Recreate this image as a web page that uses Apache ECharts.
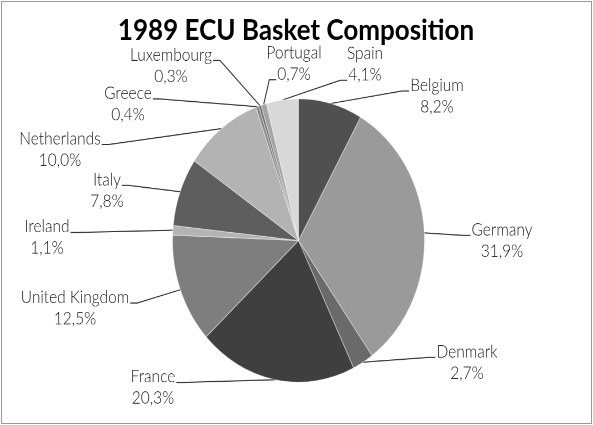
<!DOCTYPE html>
<html>
<head>
<meta charset="utf-8">
<script src="https://cdn.jsdelivr.net/npm/echarts@6/dist/echarts.min.js"></script>
<style>
  html, body { margin: 0; padding: 0; background: #fff; }
  #frame { position: relative; width: 593px; height: 425px; overflow: hidden; }
  #border { position: absolute; left: 1px; top: 1px; width: 591px; height: 423px;
            border: 1px solid #9a9a9a; box-sizing: border-box; }
  /* the reference picture is stretched vertically, so the whole chart is too */
  #chart { position: absolute; left: 0; top: 0; width: 593px; height: 378px;
           transform: scaleY(1.12434); transform-origin: 0 0; }
</style>
</head>
<body>
<div id="frame">
  <div id="chart"></div>
  <div id="border"></div>
</div>
<script>
const STRETCH = 425 / 378;

const countries = ["Belgium", "Germany", "Denmark", "France", "United Kingdom", "Ireland",
  "Italy", "Netherlands", "Greece", "Luxembourg", "Portugal", "Spain"];
const shares = [8.2, 31.9, 2.7, 20.3, 12.5, 1.1, 7.8, 10.0, 0.4, 0.3, 0.7, 4.1];
const sliceColors = ["#505050", "#9a9a9a", "#6a6a6a", "#3f3f3f", "#7e7e7e", "#b4b4b4",
  "#5e5e5e", "#b3b3b3", "#8a8a8a", "#6e6e6e", "#a5a5a5", "#d8d8d8"];

// label block centre in picture pixels, and which text row the leader line meets (0 name, 1 value)
const labelSpots = [
  [437, 96, 0], [502, 240.5, 0], [467, 362.5, 0], [153, 387.5, 0],
  [75, 308, 0], [47, 237.5, 0], [107, 190.5, 0], [60, 149.5, 0],
  [128, 104, 0], [171, 65.5, 0], [294, 63.5, 1], [365, 64, 1]
];

const LABEL_FONT = "300 15.5px Lato";
const LINE_H = 19;
const PIE_CX = 298.5;
const PIE_CY = 240.5 / STRETCH;
const PIE_R = 126;

const ctx = document.createElement("canvas").getContext("2d");
ctx.font = LABEL_FONT;
const textWidth = (s) => ctx.measureText(s).width;

const total = shares.reduce((a, b) => a + b, 0);
function edgePoint(i) {
  let before = 0;
  for (let k = 0; k < i; k++) before += shares[k];
  const a = ((before + shares[i] / 2) / total) * Math.PI * 2;
  return [PIE_CX + PIE_R * Math.sin(a), PIE_CY - PIE_R * Math.cos(a)];
}

const chart = echarts.init(document.getElementById("chart"), null, { renderer: "canvas", devicePixelRatio: 2 });

chart.setOption({
  animation: false,
  title: {
    text: "1989 ECU Basket Composition",
    left: 291,
    top: 9,
    textAlign: "center",
    textStyle: { fontFamily: "Lato", fontWeight: "bold", fontSize: 26, color: "#000" }
  },
  series: [{
    type: "pie",
    center: [PIE_CX, PIE_CY],
    radius: PIE_R,
    startAngle: 90,
    clockwise: true,
    avoidLabelOverlap: false,
    data: countries.map((name, i) => ({
      name,
      value: shares[i],
      itemStyle: { color: sliceColors[i] }
    })),
    itemStyle: { borderColor: "rgba(255,255,255,0.45)", borderWidth: 0.8 },
    label: {
      show: true,
      position: "outside",
      fontFamily: "Lato",
      fontWeight: 300,
      fontSize: 15.5,
      lineHeight: LINE_H,
      color: "#1a1a1a",
      align: "center",
      formatter: (p) => p.name + "\n" + p.value.toFixed(1).replace(".", ",") + "%"
    },
    labelLine: { show: true, length: 10, length2: 10, lineStyle: { color: "#333", width: 1 } },
    labelLayout: function (p) {
      const i = p.dataIndex;
      const spot = labelSpots[i];
      const cx = spot[0];
      const cy = spot[1] / STRETCH;
      const rows = p.text.split("\n");
      const rowY = cy + (spot[2] === 0 ? -LINE_H / 2 : LINE_H / 2);
      const w = textWidth(rows[spot[2]]);
      const start = p.labelLinePoints && p.labelLinePoints[0]
        ? [p.labelLinePoints[0][0], p.labelLinePoints[0][1]]
        : edgePoint(i);
      const toRight = cx > start[0];
      const endX = toRight ? cx - w / 2 - 1 : cx + w / 2 + 1;
      const endY = rowY + 5;
      const kneeX = toRight ? endX - 7 : endX + 7;
      return {
        x: cx,
        y: cy,
        align: "center",
        verticalAlign: "middle",
        labelLinePoints: [start, [kneeX, endY], [endX, endY]]
      };
    }
  }]
});
</script>
</body>
</html>
